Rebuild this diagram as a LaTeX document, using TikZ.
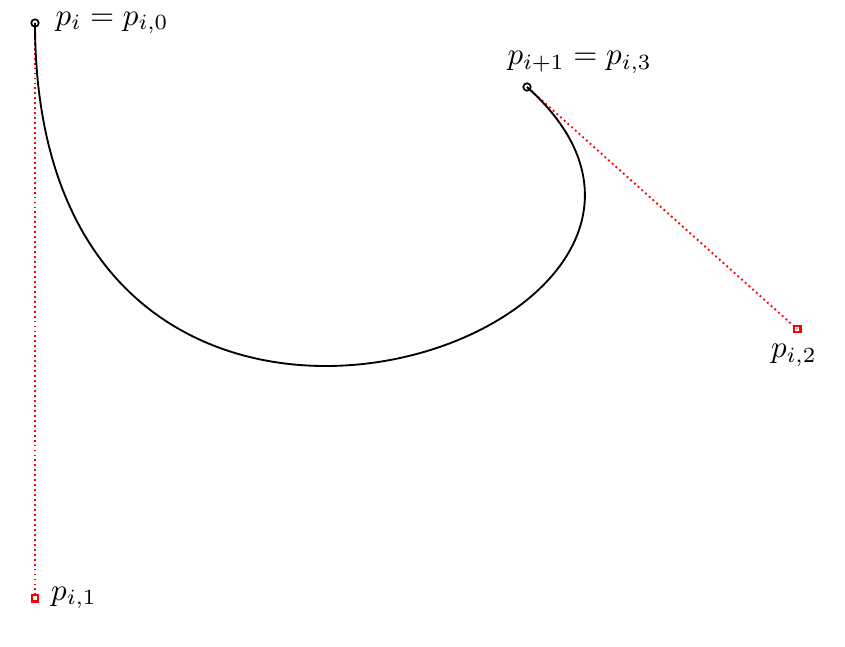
\documentclass[tikz,border=0pt]{standalone}
\usepackage{amsmath,amssymb}
\usepackage{xcolor}
\usetikzlibrary{positioning, shapes.geometric, arrows.meta}

\tikzset{
  endpt/.style={circle, draw=black, line width=0.55pt, inner sep=0pt, minimum size=2.4pt},
  ctrlpt/.style={rectangle, draw=red, line width=0.7pt, inner sep=0pt, minimum size=2.2pt},
  helper/.style={red, densely dotted, line width=0.6pt}
}

\begin{document}
\begin{tikzpicture}[x=0.01134cm, y=-0.01134cm]
      \useasboundingbox (0,0) rectangle (845,646);

      \coordinate (a) at (35,23);
      \coordinate (b) at (35,598);
      \coordinate (c) at (797,329);
      \coordinate (d) at (527,87);

      \draw[helper] (a)--(b);
      \draw[helper] (d)--(c);

      \draw[line width=0.6pt] (a) .. controls (b) and (c) .. (d);

      \node[endpt] (pa) at (a) {};
      \node[endpt] (pd) at (d) {};
      \node[ctrlpt] (pb) at (b) {};
      \node[ctrlpt] (pc) at (c) {};

      \node[right=1.1mm of a] (la) {\(p_i = p_{i,0}\)};
      \node[right=0.6mm of b] (lb) {\(p_{i,1}\)};
      \node[below=0.5mm of c, xshift=-1pt] (lc) {\(p_{i,2}\)};
      \node[above=0.3mm of d, xshift=17pt] (ld) {\(p_{i+1} = p_{i,3}\)};
    \end{tikzpicture}
\end{document}
